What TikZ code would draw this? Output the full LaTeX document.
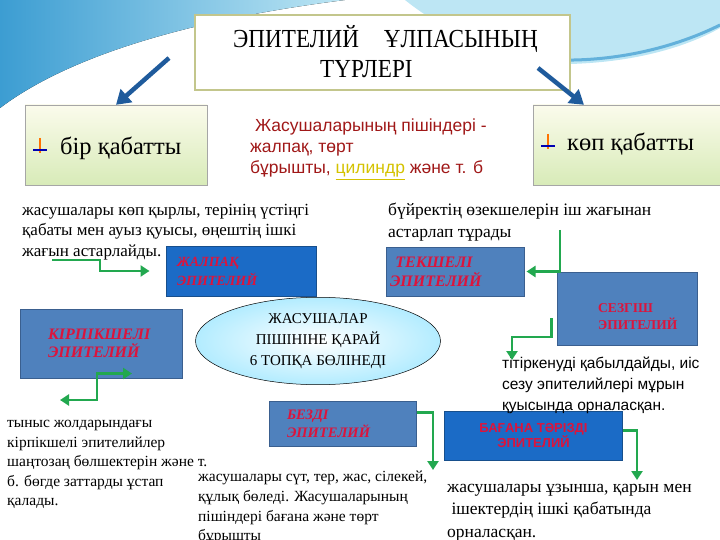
\documentclass[tikz,border=0pt]{standalone}
\usepackage{fontspec}
\setmainfont{Liberation Serif}
\setsansfont{Liberation Sans}
\newfontfamily\narrowserif[FakeStretch=0.89]{Liberation Serif}
\usetikzlibrary{shapes.geometric,arrows.meta,calc}

\definecolor{skyblue}{HTML}{4F81BD}
\definecolor{skyedge}{HTML}{3A5F8F}
\definecolor{deepblue}{HTML}{1B6BC6}
\definecolor{deepedge}{HTML}{174F8C}
\definecolor{labelred}{HTML}{DC143C}
\definecolor{arrowgreen}{HTML}{22A84F}
\definecolor{arrowblue}{HTML}{1F5B9C}
\definecolor{olivebox}{HTML}{C3C68C}
\definecolor{notered}{HTML}{A01818}
\definecolor{cylyellow}{HTML}{D4C200}
\definecolor{creamtop}{HTML}{FBFBEC}
\definecolor{greenbottom}{HTML}{D8EBB8}
\definecolor{swooshdeep}{HTML}{3C9DD2}
\definecolor{swooshpale}{HTML}{BDE6F4}

\tikzset{
  typebox/.style={draw=skyedge, fill=skyblue, line width=1pt, rectangle},
  deepbox/.style={draw=deepedge, fill=deepblue, line width=1pt, rectangle},
  boxlabel/.style={text=labelred, align=left},
  layerbox/.style={draw=gray!70, rectangle, top color=creamtop, bottom color=greenbottom, inner sep=0pt},
  paragraph/.style={anchor=north west, inner sep=0pt, align=left},
  greenarrow/.style={draw=arrowgreen, line width=2.6pt, -{Triangle[length=9pt,width=11pt]}},
  bluearrow/.style={draw=arrowblue, line width=4.5pt, -{Triangle[length=14pt,width=17pt]}},
}

\begin{document}
\begin{tikzpicture}[x=1pt, y=-1pt]
\useasboundingbox (0,0) rectangle (720,540);
% background swoosh
\fill[left color=swooshdeep, right color=swooshpale] (0,0) -- (345,0) .. controls (250,12) and (90,40) .. (0,108) -- cycle;
\fill[swooshpale] (405,0) .. controls (455,40) and (520,62) .. (570,64) .. controls (640,62) and (690,45) .. (720,28) -- (720,0) -- cycle;
\draw[swooshdeep!80, line width=3pt] (530,58) .. controls (600,66) and (670,50) .. (720,25);

% title
\node[draw=olivebox, fill=white, line width=2pt, minimum width=375pt, minimum height=75pt, inner sep=0pt] (title) at (382.5,52.5) {};
\node[anchor=base west, inner sep=0pt, font=\narrowserif\fontsize{26}{30}\selectfont] (titleone) at (233,48) {ЭПИТЕЛИЙ\hspace{25pt}ҰЛПАСЫНЫҢ};
\node[anchor=base west, inner sep=0pt, font=\narrowserif\fontsize{26}{30}\selectfont] (titletwo) at (320,78) {ТҮРЛЕРІ};

% one layer / many layers
\node[layerbox, minimum width=182pt, minimum height=80pt] (onelayer) at (116,145) {};
\node[anchor=base west, inner sep=0pt, font=\fontsize{24.5}{28}\selectfont] (onetext) at (60,155) {бір қабатты};
\draw[orange!90!red, line width=1.3pt] (40,138) -- (40,153);
\draw[blue!70!black, line width=1.8pt] (33,150) -- (47,150);
\node[layerbox, minimum width=192pt, minimum height=80pt] (manylayer) at (629,145) {};
\node[anchor=base west, inner sep=0pt, font=\fontsize{24.5}{28}\selectfont] (manytext) at (567,151) {көп қабатты};
\draw[orange!90!red, line width=1.3pt] (548,134) -- (548,149);
\draw[blue!70!black, line width=1.8pt] (541,146) -- (555,146);

\draw[bluearrow] ([xshift=-25pt, yshift=-5.5pt]title.west) -- (onelayer.north);
\draw[bluearrow] ([xshift=-33pt, yshift=23pt]title.south east) -- ([xshift=-45pt]manylayer.north);

% red note
\node[paragraph, text=notered, font=\sffamily\fontsize{17.5}{21}\selectfont] (shapenote) at (250,119) {\ Жасушаларының пішіндері -\\жалпақ, төрт\\бұрышты, \textcolor{cylyellow}{\underline{цилиндр}} және т. б};

% paragraphs
\node[paragraph, font=\fontsize{17}{20.5}\selectfont] (flatnote) at (22,204) {жасушалары көп қырлы, терінің үстіңгі\\қабаты мен ауыз қуысы, өңештің ішкі\\жағын астарлайды.};
\node[paragraph, font=\fontsize{17.5}{22}\selectfont] (kidneynote) at (388,203) {бүйректің өзекшелерін іш жағынан\\астарлап тұрады};

% type boxes
\node[deepbox, minimum height=50pt, text width=128pt, inner xsep=11pt, boxlabel, font=\bfseries\itshape\fontsize{14}{19}\selectfont] (flat) at (241,271) {ЖАЛПАҚ\\ЭПИТЕЛИЙ};
\node[typebox, minimum height=69pt, text width=106pt, inner xsep=28pt, boxlabel, font=\bfseries\itshape\fontsize{16}{18}\selectfont] (cilia) at (101,343.5) {КІРПІКШЕЛІ\\ЭПИТЕЛИЙ};
\node[typebox, minimum height=49pt, text width=130pt, inner xsep=4pt, boxlabel, font=\bfseries\itshape\fontsize{16}{19}\selectfont] (cube) at (455,271.5) {\ ТЕКШЕЛІ\\ЭПИТЕЛИЙ};
\node[typebox, minimum width=140pt, minimum height=73pt] (sense) at (627,308.5) {};
\node[anchor=west, inner sep=0pt, boxlabel, font=\bfseries\fontsize{13.5}{17}\selectfont] (sensetext) at (598,317) {СЕЗГІШ\\ЭПИТЕЛИЙ};
\node[typebox, minimum height=45pt, text width=111pt, inner xsep=18pt, boxlabel, font=\bfseries\itshape\fontsize{14.5}{18}\selectfont] (gland) at (342.5,423.5) {БЕЗДІ\\ЭПИТЕЛИЙ};
\node[deepbox, minimum width=178pt, minimum height=49pt, align=center, text=labelred, font=\sffamily\bfseries\fontsize{13}{15}\selectfont] (column) at (533.5,435.5) {БАҒАНА ТӘРІЗДІ\\ЭПИТЕЛИЙ};

% centre ellipse
\node[ellipse, draw=black, line width=0.5pt, inner color=white, outer color=blue!25!cyan!30, minimum width=245pt, minimum height=78pt, align=center, font=\fontsize{15}{21}\selectfont] (groups) at (318,341) {ЖАСУШАЛАР\\ПІШІНІНЕ ҚАРАЙ\\6 ТОПҚА БӨЛІНЕДІ};

% lower notes
\node[paragraph, font=\sffamily\fontsize{15.5}{21}\selectfont] (sensenote) at (502,357) {тітіркенуді қабылдайды, иіс\\сезу эпителийлері мұрын\\қуысында орналасқан.};
\node[paragraph, font=\fontsize{15.5}{19.5}\selectfont] (cilianote) at (7,420) {тыныс жолдарындағы\\кірпікшелі эпителийлер\\шаңтозаң бөлшектерін және т.\\б. бөгде заттарды ұстап\\қалады.};
\node[paragraph, font=\fontsize{15.5}{19.7}\selectfont] (glandnote) at (198,471) {жасушалары сүт, тер, жас, сілекей,\\құлық бөледі. Жасушаларының\\пішіндері бағана және төрт\\бұрышты};
\node[paragraph, font=\fontsize{17.5}{22.5}\selectfont] (columnnote) at (447,484) {жасушалары ұзынша, қарын мен\\\ ішектердің ішкі қабатында\\орналасқан.};

% green connectors
\coordinate (flatstart) at (52,260);
\coordinate (cubestart) at (560,230);
\coordinate (sensetip) at (512,360);
\coordinate (ciliatip) at (60,400);
\coordinate (glandtip) at (433,470);
\coordinate (columntip) at (637,480);
\draw[greenarrow] (flatstart) -- ++(48,0) |- ([xshift=-16pt]flat.west);
\draw[greenarrow] (cubestart) |- ([xshift=2pt]cube.east);
\draw[greenarrow] ([xshift=-5pt, yshift=-9.5pt]sense.west) -- ++(0,19) -| (sensetip);
\draw[greenarrow, {Triangle[length=9pt,width=11pt]}-{Triangle[length=9pt,width=11pt]}] (ciliatip) -| ([xshift=-4pt, yshift=5pt]cilia.south) -- ++(35,0);
\draw[greenarrow] ([yshift=11pt]gland.east) -| (glandtip);
\draw[greenarrow] ([yshift=5pt]column.east) -| (columntip);
\end{tikzpicture}
\end{document}
